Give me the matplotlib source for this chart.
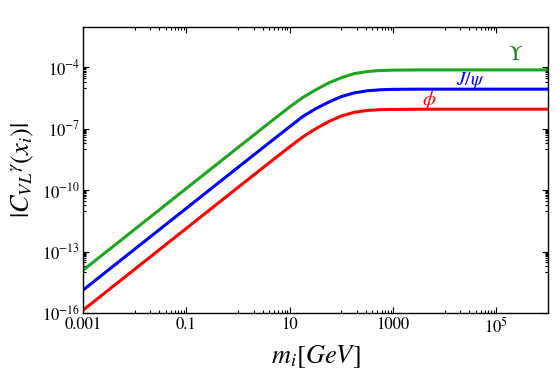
import numpy as np
import matplotlib
matplotlib.use('Agg')
import matplotlib.pyplot as plt
from matplotlib.ticker import FixedLocator, FixedFormatter

# ==================== data
m_gev = [0.001, 1, 5.62, 10, 17.8, 31.6, 56.2, 100, 178, 316, 562, 1000, 3160, 1e6]

c_upsilon = [1.23e-14, 1.23e-8, 3.80e-7, 1.18e-6, 3.39e-6, 7.94e-6, 1.74e-5, 3.16e-5,
             5.01e-5, 6.31e-5, 7.08e-5, 7.41e-5, 7.59e-5, 7.59e-5]
c_jpsi    = [1.32e-15, 1.32e-9, 4.10e-8, 1.27e-7, 3.98e-7, 9.55e-7, 2.00e-6, 3.80e-6,
             5.75e-6, 7.24e-6, 8.13e-6, 8.51e-6, 8.70e-6, 8.70e-6]
c_phi     = [1.38e-16, 1.38e-10, 4.30e-9, 1.33e-8, 3.98e-8, 1.00e-7, 2.24e-7, 4.27e-7,
             6.46e-7, 7.94e-7, 8.71e-7, 8.91e-7, 9.10e-7, 9.10e-7]

x_major = [1e-3, 1e-1, 1e1, 1e3, 1e5]
x_labels = ['0.001', '0.1', '10', '1000', r'$10^5$']
y_major = [1e-16, 1e-13, 1e-10, 1e-7, 1e-4]
y_labels = [r'$10^{-16}$', r'$10^{-13}$', r'$10^{-10}$', r'$10^{-7}$', r'$10^{-4}$']

COLORS = {'upsilon': '#1ea51e', 'jpsi': '#0000ff', 'phi': '#ff0000'}

plt.rcParams['font.family'] = ['STIXGeneral', 'DejaVu Serif']
plt.rcParams['mathtext.fontset'] = 'stix'

fig = plt.figure(figsize=(5.57, 3.79), dpi=100)
ax = fig.add_axes([0.149, 0.174, 0.835, 0.756])

ax.plot(m_gev, c_upsilon, color=COLORS['upsilon'], lw=2.2, solid_capstyle='butt')
ax.plot(m_gev, c_jpsi, color=COLORS['jpsi'], lw=2.2, solid_capstyle='butt')
ax.plot(m_gev, c_phi, color=COLORS['phi'], lw=2.2, solid_capstyle='butt')

ax.set_xscale('log')
ax.set_yscale('log')
ax.set_xlim(1e-3, 1e6)
ax.set_ylim(1e-16, 1e-2)

# mathematica-style ticks: labelled decades plus j*10^k minors one decade below
x_minor = [j * 10.0**k for k in (-2, 0, 2, 4) for j in range(1, 10)]
y_minor = [j * 10.0**k for k in (-14, -11, -8, -5) for j in range(1, 10)]
ax.xaxis.set_major_locator(FixedLocator(x_major))
ax.xaxis.set_major_formatter(FixedFormatter(x_labels))
ax.xaxis.set_minor_locator(FixedLocator(x_minor))
ax.yaxis.set_major_locator(FixedLocator(y_major))
ax.yaxis.set_major_formatter(FixedFormatter(y_labels))
ax.yaxis.set_minor_locator(FixedLocator(y_minor))
ax.xaxis.set_minor_formatter(FixedFormatter([]))
ax.yaxis.set_minor_formatter(FixedFormatter([]))

ax.tick_params(which='both', direction='in', top=True, right=True, width=0.8)
ax.tick_params(which='major', length=4.5, labelsize=12, pad=2)
ax.tick_params(axis='x', which='major', pad=3)
ax.tick_params(which='minor', length=2.2)
for s in ax.spines.values():
    s.set_linewidth(1.0)

ax.set_xlabel(r'$m_i[GeV]$', fontsize=19, labelpad=4)
ax.set_ylabel(r'$|C_{VL}{}^{\gamma}(x_i)|$', fontsize=19, labelpad=4)

ax.text(2.3e5, 4.2e-4, r'$\Upsilon$', color='#1a7f1a', fontsize=15,
        ha='center', va='center')
ax.text(3.1e4, 2.4e-5, r'$J/\psi$', color=COLORS['jpsi'], fontsize=14,
        ha='center', va='center')
ax.text(4.9e3, 2.6e-6, r'$\phi$', color=COLORS['phi'], fontsize=15,
        ha='center', va='center')

fig.savefig('out.png', dpi=100)
